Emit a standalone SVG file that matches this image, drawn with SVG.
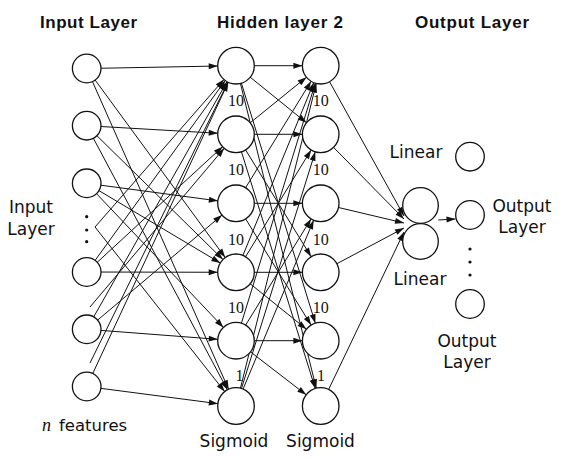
<svg xmlns="http://www.w3.org/2000/svg" width="561" height="459" viewBox="0 0 561 459">
<style>
.n{fill:#fff;stroke:#111;stroke-width:1.3}
.c line{stroke:#111;stroke-width:1;fill:none}
.a{marker-end:url(#ah)}
.p{marker-end:url(#at)}
.t{font-family:"DejaVu Sans",sans-serif;font-size:17px;fill:#111;text-anchor:middle}
.h{font-family:"Liberation Sans",Arial,sans-serif;font-weight:bold;font-size:17px;fill:#111;text-anchor:middle}
.s{font-family:"Liberation Serif","Times New Roman",serif;font-size:16px;fill:#111;text-anchor:middle}
.d{fill:#111}
</style>
<defs>
<marker id="ah" markerUnits="userSpaceOnUse" markerWidth="30" markerHeight="10" viewBox="0 0 30 10" refX="28.3" refY="5" orient="auto"><path d="M1,2 L10,5 L1,8 z" fill="#111"/></marker>
<marker id="at" markerUnits="userSpaceOnUse" markerWidth="10" markerHeight="10" viewBox="0 0 10 10" refX="10" refY="5" orient="auto"><path d="M1,2 L10,5 L1,8 z" fill="#111"/></marker>
</defs>
<rect width="561" height="459" fill="#fff"/>
<g id="connectors" class="c">
<!-- input to hidden 1 -->
<line class="a" x1="86.7" y1="68.5" x2="236" y2="65.7"/>
<line class="a" x1="86.7" y1="68.5" x2="236" y2="272.3"/>
<line class="a" x1="86.7" y1="68.5" x2="236" y2="406"/>
<line class="a" x1="86.7" y1="125.7" x2="236" y2="134.3"/>
<line class="a" x1="86.7" y1="125.7" x2="236" y2="272.3"/>
<line class="a" x1="86.7" y1="125.7" x2="236" y2="406"/>
<line class="a" x1="86.7" y1="183.3" x2="236" y2="203.3"/>
<line class="a" x1="86.7" y1="183.3" x2="236" y2="272.3"/>
<line class="a" x1="86.7" y1="183.3" x2="236" y2="340.7"/>
<line class="a" x1="86.7" y1="272" x2="236" y2="272.3"/>
<line class="a" x1="86.7" y1="272" x2="236" y2="65.7"/>
<line class="a" x1="86.7" y1="272" x2="236" y2="134.3"/>
<line class="a" x1="86.7" y1="329.3" x2="236" y2="340.7"/>
<line class="a" x1="86.7" y1="329.3" x2="236" y2="65.7"/>
<line class="a" x1="86.7" y1="329.3" x2="236" y2="203.3"/>
<line class="a" x1="86.7" y1="386.5" x2="236" y2="406"/>
<line class="a" x1="86.7" y1="386.5" x2="236" y2="65.7"/>
<line class="a" x1="95" y1="227" x2="236" y2="65.7"/>
<line class="a" x1="95" y1="227" x2="236" y2="406"/>
<line class="a" x1="90" y1="363" x2="236" y2="65.7"/>
<line class="a" x1="90" y1="307" x2="236" y2="134.3"/>
<!-- hidden 1 to hidden 2 -->
<line class="a" x1="236" y1="65.7" x2="320.7" y2="65.7"/>
<line class="a" x1="236" y1="65.7" x2="320.7" y2="134.3"/>
<line class="a" x1="236" y1="65.7" x2="320.7" y2="340.7"/>
<line class="a" x1="236" y1="65.7" x2="320.7" y2="406"/>
<line class="a" x1="236" y1="134.3" x2="320.7" y2="134.3"/>
<line class="a" x1="236" y1="134.3" x2="320.7" y2="65.7"/>
<line class="a" x1="236" y1="134.3" x2="320.7" y2="272.3"/>
<line class="a" x1="236" y1="134.3" x2="320.7" y2="406"/>
<line class="a" x1="236" y1="203.3" x2="320.7" y2="203.3"/>
<line class="a" x1="236" y1="203.3" x2="320.7" y2="65.7"/>
<line class="a" x1="236" y1="203.3" x2="320.7" y2="340.7"/>
<line class="a" x1="236" y1="272.3" x2="320.7" y2="272.3"/>
<line class="a" x1="236" y1="272.3" x2="320.7" y2="65.7"/>
<line class="a" x1="236" y1="272.3" x2="320.7" y2="134.3"/>
<line class="a" x1="236" y1="272.3" x2="320.7" y2="340.7"/>
<line class="a" x1="236" y1="340.7" x2="320.7" y2="340.7"/>
<line class="a" x1="236" y1="340.7" x2="320.7" y2="65.7"/>
<line class="a" x1="236" y1="340.7" x2="320.7" y2="203.3"/>
<line class="a" x1="236" y1="340.7" x2="320.7" y2="406"/>
<line class="a" x1="236" y1="406" x2="320.7" y2="65.7"/>
<line class="a" x1="236" y1="406" x2="320.7" y2="134.3"/>
<line class="a" x1="236" y1="406" x2="320.7" y2="203.3"/>
<!-- hidden 2 to linear -->
<line class="p" x1="320.7" y1="65.7" x2="404" y2="216"/>
<line class="p" x1="320.7" y1="134.3" x2="404" y2="219"/>
<line class="p" x1="320.7" y1="203.3" x2="404" y2="223"/>
<line class="p" x1="320.7" y1="272.3" x2="404" y2="228"/>
<line class="p" x1="320.7" y1="406" x2="404" y2="232"/>
<!-- linear to output -->
<line class="p" x1="438.3" y1="220" x2="455.5" y2="219"/>
</g>
<g id="input-layer">
<circle id="in1" class="n" cx="86.7" cy="68.5" r="14.3"/>
<circle id="in2" class="n" cx="86.7" cy="125.7" r="14.3"/>
<circle id="in3" class="n" cx="86.7" cy="183.3" r="14.3"/>
<circle id="in4" class="n" cx="86.7" cy="272" r="14.3"/>
<circle id="in5" class="n" cx="86.7" cy="329.3" r="14.3"/>
<circle id="in6" class="n" cx="86.7" cy="386.5" r="14.3"/>
<circle class="d" cx="86.7" cy="216.7" r="1.6"/>
<circle class="d" cx="86.7" cy="230" r="1.6"/>
<circle class="d" cx="86.7" cy="241.7" r="1.6"/>
</g>
<g id="hidden-1">
<circle id="h1n1" class="n" cx="236" cy="65.7" r="18.3"/>
<circle id="h1n2" class="n" cx="236" cy="134.3" r="18.3"/>
<circle id="h1n3" class="n" cx="236" cy="203.3" r="18.3"/>
<circle id="h1n4" class="n" cx="236" cy="272.3" r="18.3"/>
<circle id="h1n5" class="n" cx="236" cy="340.7" r="18.3"/>
<circle id="h1n6" class="n" cx="236" cy="406" r="18.3"/>
</g>
<g id="hidden-2">
<circle id="h2n1" class="n" cx="320.7" cy="65.7" r="18.3"/>
<circle id="h2n2" class="n" cx="320.7" cy="134.3" r="18.3"/>
<circle id="h2n3" class="n" cx="320.7" cy="203.3" r="18.3"/>
<circle id="h2n4" class="n" cx="320.7" cy="272.3" r="18.3"/>
<circle id="h2n5" class="n" cx="320.7" cy="340.7" r="18.3"/>
<circle id="h2n6" class="n" cx="320.7" cy="406" r="18.3"/>
</g>
<g id="linear">
<circle id="lin1" class="n" cx="420.5" cy="205.5" r="17.8"/>
<circle id="lin2" class="n" cx="420.5" cy="241.5" r="17.8"/>
</g>
<g id="output-layer">
<circle id="out1" class="n" cx="470" cy="156.7" r="14.3"/>
<circle id="out2" class="n" cx="470" cy="215" r="14.3"/>
<circle id="out3" class="n" cx="470" cy="304" r="14.3"/>
<circle class="d" cx="470" cy="249" r="1.6"/>
<circle class="d" cx="470" cy="262" r="1.6"/>
<circle class="d" cx="470" cy="275" r="1.6"/>
</g>
<g id="labels">
<text class="h" x="88.5" y="28" textLength="97">Input Layer</text>
<text class="h" x="280" y="28" textLength="126">Hidden layer 2</text>
<text class="h" x="472" y="28" textLength="114">Output Layer</text>
<text class="t" x="31" y="213">Input</text>
<text class="t" x="31" y="235">Layer</text>
<text x="42" y="431" font-family="Liberation Serif, serif" font-style="italic" font-size="18" fill="#111">n</text>
<text x="59" y="431" font-family="DejaVu Sans, sans-serif" font-size="16.5" fill="#111">features</text>
<text class="t" x="234" y="447">Sigmoid</text>
<text class="t" x="320.5" y="447">Sigmoid</text>
<text class="t" x="416" y="158">Linear</text>
<text class="t" x="420" y="285">Linear</text>
<text class="t" x="522" y="212">Output</text>
<text class="t" x="522" y="233">Layer</text>
<text class="t" x="467" y="347">Output</text>
<text class="t" x="467" y="368">Layer</text>
<text class="s" x="236" y="106">10</text>
<text class="s" x="236" y="175">10</text>
<text class="s" x="236" y="245">10</text>
<text class="s" x="236" y="313">10</text>
<text class="s" x="239.5" y="381">1</text>
<text class="s" x="320.7" y="106">10</text>
<text class="s" x="320.7" y="175">10</text>
<text class="s" x="320.7" y="245">10</text>
<text class="s" x="320.7" y="313">10</text>
<text class="s" x="321" y="381">1</text>
</g>
</svg>
